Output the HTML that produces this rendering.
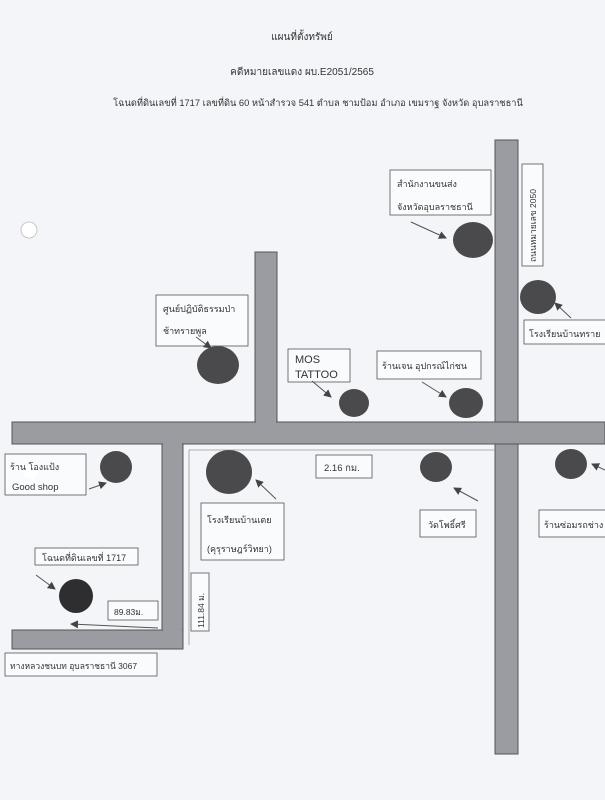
<!DOCTYPE html>
<html><head><meta charset="utf-8"><style>
html,body{margin:0;padding:0;background:#f3f5f9;}
svg{display:block;}
text{font-family:"Liberation Sans","Noto Sans CJK SC",sans-serif;fill:#333;}
</style></head><body>
<svg width="605" height="800" viewBox="0 0 605 800" xmlns="http://www.w3.org/2000/svg">
<defs><marker id="a" markerWidth="8" markerHeight="8" refX="7" refY="4" orient="auto" markerUnits="userSpaceOnUse"><path d="M0,0 L8,4 L0,8 z" fill="#444"/></marker></defs>
<rect width="605" height="800" fill="#f3f5f9"/>
<circle cx="29" cy="230" r="8" fill="#fff" stroke="#bbb" stroke-width="0.8"/>
<text x="302" y="40" font-size="10" text-anchor="middle">แผนที่ตั้งทรัพย์</text>
<text x="302" y="75" font-size="10" text-anchor="middle">คดีหมายเลขแดง ผบ.E2051/2565</text>
<text x="318" y="106" font-size="9.3" text-anchor="middle">โฉนดที่ดินเลขที่ 1717 เลขที่ดิน 60 หน้าสำรวจ 541  ตำบล ชามป้อม อำเภอ เขมราฐ จังหวัด อุบลราชธานี</text>
<g fill="#9a9ca2" stroke="#555" stroke-width="1">
<rect x="495" y="140" width="23" height="614"/>
<rect x="255" y="252" width="22" height="170"/>
<rect x="12" y="422" width="593" height="22"/>
<rect x="162" y="444" width="21" height="186"/>
<rect x="12" y="630" width="171" height="19"/>
</g>
<rect x="496" y="423" width="21" height="20" fill="#9a9ca2"/>
<rect x="256" y="420" width="20" height="4" fill="#9a9ca2"/>
<rect x="163" y="442" width="19" height="4" fill="#9a9ca2"/>
<rect x="163" y="628" width="19" height="4" fill="#9a9ca2"/>
<g stroke="#999" stroke-width="0.8"><line x1="189" y1="450" x2="495" y2="450"/><line x1="189" y1="450" x2="189" y2="645"/></g>
<g fill="#4a4a4c">
<ellipse cx="473" cy="240" rx="20" ry="18"/>
<ellipse cx="538" cy="297" rx="18" ry="17"/>
<ellipse cx="354" cy="403" rx="15" ry="14"/>
<ellipse cx="466" cy="403" rx="17" ry="15"/>
<ellipse cx="436" cy="467" rx="16" ry="15"/>
<ellipse cx="571" cy="464" rx="16" ry="15"/>
<ellipse cx="116" cy="467" rx="16" ry="16"/>
<ellipse cx="229" cy="472" rx="23" ry="22"/>
<ellipse cx="218" cy="365" rx="21" ry="19"/>
<ellipse cx="76" cy="596" rx="17" ry="17" fill="#2e2e30"/>
</g>
<g fill="#fafbfd" stroke="#555" stroke-width="0.8">
<rect x="390" y="170" width="101" height="45"/>
<rect x="522" y="164" width="21" height="102"/>
<rect x="524" y="320" width="90" height="24"/>
<rect x="288" y="349" width="62" height="33"/>
<rect x="377" y="351" width="104" height="28"/>
<rect x="316" y="455" width="56" height="23"/>
<rect x="420" y="510" width="56" height="27"/>
<rect x="539" y="510" width="80" height="27"/>
<rect x="5" y="454" width="81" height="41"/>
<rect x="201" y="503" width="83" height="57"/>
<rect x="156" y="295" width="92" height="51"/>
<rect x="35" y="548" width="103" height="17"/>
<rect x="108" y="601" width="50" height="19"/>
<rect x="191" y="573" width="18" height="58"/>
<rect x="5" y="653" width="152" height="23"/>
</g>
<circle cx="31" cy="472" r="7" fill="#fff"/>
<g stroke="#555" stroke-width="1" marker-end="url(#a)">
<line x1="411" y1="222" x2="446" y2="238"/>
<line x1="571" y1="318" x2="555" y2="303"/>
<line x1="312" y1="381" x2="331" y2="397"/>
<line x1="422" y1="382" x2="446" y2="397"/>
<line x1="478" y1="501" x2="454" y2="488"/>
<line x1="605" y1="470" x2="592" y2="464"/>
<line x1="89" y1="489" x2="106" y2="483"/>
<line x1="276" y1="499" x2="256" y2="480"/>
<line x1="196" y1="337" x2="211" y2="348"/>
<line x1="36" y1="575" x2="55" y2="589"/>
<line x1="158" y1="628" x2="71" y2="624"/>
</g>
<g font-size="9">
<text x="397" y="187">สำนักงานขนส่ง</text>
<text x="397" y="210">จังหวัดอุบลราชธานี</text>
<text transform="translate(536,262) rotate(-90)" font-size="8.5">ถนนหมายเลข 2050</text>
<text x="529" y="337">โรงเรียนบ้านทราย</text>
<text x="295" y="363" font-size="11">MOS</text>
<text x="295" y="378" font-size="11">TATTOO</text>
<text x="382" y="369">ร้านเจน อุปกรณ์ไก่ชน</text>
<text x="324" y="471" font-size="9.5">2.16 กม.</text>
<text x="428" y="528">วัดโพธิ์ศรี</text>
<text x="544" y="528">ร้านซ่อมรถช่าง</text>
<text x="10" y="470">ร้าน   โองแป้ง</text>
<text x="12" y="490" font-size="9.5">Good shop</text>
<text x="207" y="523">โรงเรียนบ้านเตย</text>
<text x="207" y="552">(คุรุราษฎร์วิทยา)</text>
<text x="163" y="312">ศูนย์ปฏิบัติธรรมป่า</text>
<text x="163" y="334">ช้าทรายพูล</text>
<text x="42" y="561">โฉนดที่ดินเลขที่ 1717</text>
<text x="114" y="615" font-size="8.5">89.83ม.</text>
<text transform="translate(204,628) rotate(-90)" font-size="8.5">111.84 ม.</text>
<text x="10" y="669" font-size="8.5">ทางหลวงชนบท อุบลราชธานี 3067</text>
</g>
</svg>
</body></html>
